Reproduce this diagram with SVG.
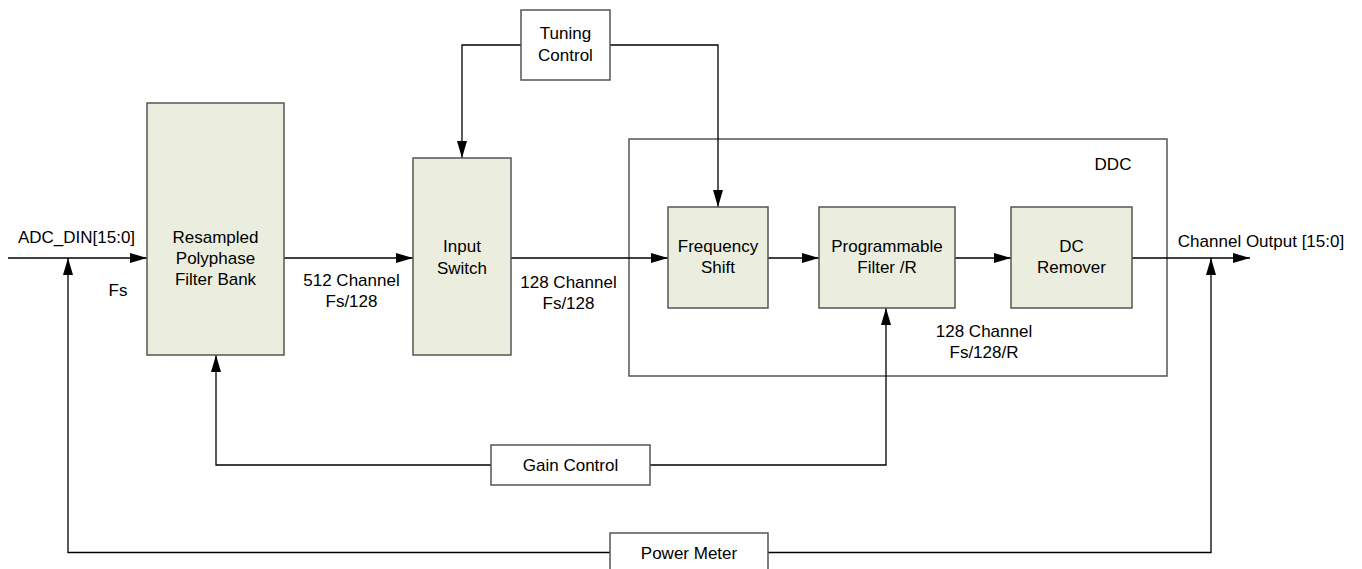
<svg xmlns="http://www.w3.org/2000/svg" width="1362" height="569" viewBox="0 0 1362 569">
<style>
text{font-family:"Liberation Sans",Arial,sans-serif;font-size:17px;fill:#000;text-anchor:middle}
.blk{fill:#EBEEDE;stroke:#555;stroke-width:1.5}
.wht{fill:#fff;stroke:#555;stroke-width:1.5}
.grp{fill:none;stroke:#555;stroke-width:1.5}
.c{fill:none;stroke:#000;stroke-width:1.3}
.a{fill:none;stroke:#000;stroke-width:1.3;marker-end:url(#ah)}
</style>
<defs>
<marker id="ah" markerUnits="userSpaceOnUse" markerWidth="18" markerHeight="12" refX="17" refY="5" orient="auto">
<path d="M0,0 L17,5 L0,10 Z" fill="#000"/>
</marker>
</defs>
<rect width="1362" height="569" fill="#fff"/>
<g id="ddc">
<rect class="grp" x="629" y="139" width="538" height="237"/>
<text x="1113" y="170">DDC</text>
</g>
<g id="connectors">
<path class="a" d="M8,258 H147"/>
<path class="a" d="M284,258 H413"/>
<path class="a" d="M511,258 H668"/>
<path class="a" d="M768,258 H819"/>
<path class="a" d="M955,258 H1011"/>
<path class="a" d="M1132,258 H1250"/>
<path class="a" d="M521,45 H462 V158"/>
<path class="a" d="M610,45 H718 V207"/>
<path class="a" d="M491,465 H216 V355"/>
<path class="a" d="M650,465 H886 V308"/>
<path class="a" d="M610,552.5 H68 V258"/>
<path class="a" d="M768,552.5 H1211 V258"/>
</g>
<g id="resampled">
<rect class="blk" x="147" y="103" width="137" height="252"/>
<text x="215.5" y="243">Resampled</text>
<text x="215.5" y="264">Polyphase</text>
<text x="215.5" y="284.5">Filter Bank</text>
</g>
<g id="inputswitch">
<rect class="blk" x="413" y="158" width="98" height="197"/>
<text x="462" y="252">Input</text>
<text x="462" y="274">Switch</text>
</g>
<g id="tuning">
<rect class="wht" x="521" y="10" width="89" height="70"/>
<text x="565.5" y="39">Tuning</text>
<text x="565.5" y="61">Control</text>
</g>
<g id="freqshift">
<rect class="blk" x="668" y="207" width="100" height="101"/>
<text x="718" y="251.5">Frequency</text>
<text x="718" y="273">Shift</text>
</g>
<g id="progfilter">
<rect class="blk" x="819" y="207" width="136" height="101"/>
<text x="887" y="251.5">Programmable</text>
<text x="887" y="273">Filter /R</text>
</g>
<g id="dcremover">
<rect class="blk" x="1011" y="207" width="121" height="101"/>
<text x="1071.5" y="251.5">DC</text>
<text x="1071.5" y="273">Remover</text>
</g>
<g id="gain">
<rect class="wht" x="491" y="445" width="159" height="40"/>
<text x="570.5" y="471">Gain Control</text>
</g>
<g id="power">
<rect class="wht" x="610" y="533" width="158" height="45"/>
<text x="689" y="559">Power Meter</text>
</g>
<g id="labels">
<text x="76.5" y="243">ADC_DIN[15:0]</text>
<text x="118" y="296">Fs</text>
<text x="351.5" y="286">512 Channel</text>
<text x="351.5" y="306.5">Fs/128</text>
<text x="568.5" y="288">128 Channel</text>
<text x="568.5" y="309">Fs/128</text>
<text x="984" y="337">128 Channel</text>
<text x="984" y="357.5">Fs/128/R</text>
<text x="1261" y="246.5">Channel Output [15:0]</text>
</g>
</svg>
